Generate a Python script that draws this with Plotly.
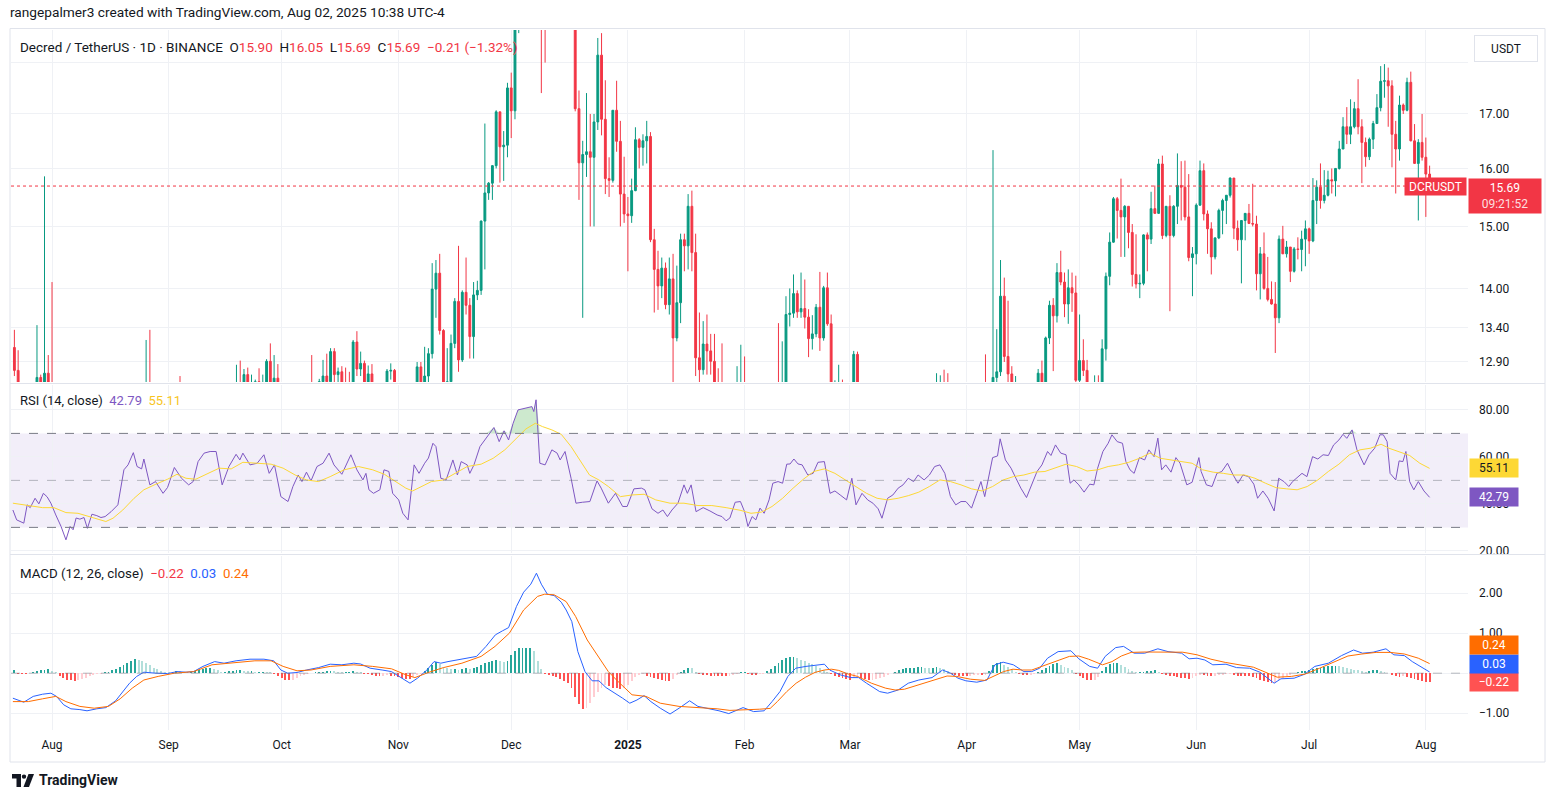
import math
import pandas as pd
import plotly.graph_objects as go

# ---------------- DATA ----------------
ORIGIN = pd.Timestamp("2024-08-01")   # day 0
FIRST_DAY = -10                        # first candle = 2024-07-22
FIRST_OPEN = 13.11

closes = [
    12.78, 12.35, 12.20, 12.45, 12.40, 12.42, 12.68, 12.58, 12.74, 12.60,
    12.15, 11.85, 11.55, 11.00, 11.30, 11.20, 11.45, 11.40, 11.45, 11.10,
    11.40, 11.35, 11.30, 11.30, 11.35, 11.45, 11.55, 11.60, 11.75, 12.25,
    12.35, 12.50, 12.30, 12.25, 12.35, 12.55, 12.05, 12.10, 12.00, 11.90,
    12.00, 12.15, 12.35, 12.30, 12.10, 12.05, 12.00, 12.05, 12.35, 12.45,
    12.50, 12.55, 12.55, 12.58, 12.30, 12.10, 12.25, 12.35, 12.50, 12.58,
    12.45, 12.72, 12.50, 12.58, 12.62, 12.50, 12.58, 12.91, 12.55, 12.67,
    12.58, 12.20, 12.10, 12.25, 12.35, 12.45, 12.40, 12.50, 12.45, 12.40,
    12.60, 12.62, 12.70, 12.62, 13.05, 12.72, 12.76, 12.60, 12.50, 12.48,
    13.19, 12.80, 12.88, 12.50, 12.73, 12.55, 12.45, 12.50, 12.55, 12.77,
    12.78, 12.40, 12.30, 12.00, 11.85, 11.80, 12.55, 12.83, 12.50, 12.70,
    13.02, 13.99, 14.24, 13.36, 12.55, 12.62, 13.17, 13.80, 12.93, 13.94,
    13.74, 13.27, 13.90, 13.97, 15.09, 15.57, 15.74, 16.05, 17.04, 16.39,
    16.42, 17.50, 17.06, 19.00, 20.20, 21.00, 21.50, 22.50, 22.00, 24.00,
    19.80, 19.50, 20.50, 20.30, 20.00, 19.80, 20.40, 19.60, 19.00, 17.10,
    16.10, 16.25, 16.30, 16.20, 16.85, 18.15, 16.90, 15.82, 15.79, 17.07,
    16.49, 15.55, 15.21, 15.18, 15.61, 16.52, 16.38, 16.50, 16.58, 14.78,
    14.30, 14.04, 14.32, 13.75, 14.15, 13.25, 13.78, 14.78, 14.68, 15.34,
    14.57, 12.96, 12.79, 13.16, 13.06, 12.91, 12.50, 12.30, 12.20, 12.00,
    11.70, 11.50, 11.90, 12.20, 11.80, 11.00, 11.20, 11.10, 11.50, 11.40,
    11.70, 12.20, 12.30, 12.25, 12.55, 13.60, 13.62, 13.92, 13.64, 13.69,
    13.56, 13.24, 13.31, 13.71, 13.25, 14.01, 13.46, 12.50, 12.55, 12.58,
    12.40, 12.30, 12.35, 13.01, 12.45, 12.10, 11.95, 11.90, 11.80, 11.65,
    11.40, 11.75, 11.85, 11.95, 12.00, 12.10, 12.05, 12.15, 12.10, 12.20,
    12.15, 12.25, 12.30, 12.35, 12.40, 12.50, 12.55, 12.30, 12.10, 11.95,
    11.90, 11.95, 11.90, 11.75, 11.70, 11.95, 12.10, 11.85, 11.80, 12.30,
    12.68, 12.76, 13.88, 12.98, 12.73, 12.50, 12.58, 12.35, 12.20, 12.10,
    12.35, 12.55, 12.74, 12.60, 13.25, 13.74, 13.58, 14.25, 14.10, 13.76,
    14.01, 13.93, 12.64, 12.92, 12.78, 12.55, 12.45, 12.58, 12.52, 13.09,
    14.19, 14.74, 15.47, 15.27, 15.16, 15.34, 14.90, 14.22, 14.07, 14.08,
    14.86, 14.79, 15.30, 15.22, 16.08, 14.85, 15.34, 14.85, 15.34, 15.70,
    15.67, 15.16, 14.49, 14.55, 15.36, 15.96, 15.21, 14.96, 14.50, 14.81,
    15.27, 15.44, 15.53, 15.83, 14.97, 14.78, 15.10, 15.22, 15.05, 15.04,
    14.23, 14.55, 14.00, 13.83, 13.76, 13.55, 14.79, 14.55, 14.66, 14.27,
    14.63, 14.62, 14.79, 14.96, 14.76, 15.44, 15.67, 15.44, 15.53, 15.80,
    15.78, 16.00, 16.35, 16.76, 16.62, 16.76, 17.10, 16.76, 16.47, 16.21,
    16.53, 16.82, 17.12, 17.63, 17.64, 17.54, 16.62, 16.35, 17.17, 17.07,
    17.61, 16.50, 16.09, 16.47, 16.20, 15.90, 15.69,
]

highs = [
    13.37, 13.07, 12.45, 12.52, 12.55, 12.55, 13.44, 12.72, 15.86, 13.00,
    14.10, 12.25, 11.95, 11.65, 11.45, 11.60, 11.70, 11.65, 11.70, 11.50,
    11.55, 11.60, 11.50, 11.45, 11.50, 11.55, 11.65, 11.75, 11.90, 12.35,
    12.50, 12.58, 12.55, 12.45, 12.50, 13.22, 13.37, 12.25, 12.20, 12.10,
    12.15, 12.30, 12.45, 12.50, 12.70, 12.25, 12.15, 12.20, 12.45, 12.55,
    12.58, 12.60, 12.60, 12.61, 12.60, 12.35, 12.35, 12.45, 12.58, 12.86,
    12.92, 12.80, 12.82, 12.72, 12.65, 12.81, 12.72, 12.94, 13.17, 13.00,
    12.87, 12.60, 12.30, 12.35, 12.45, 12.55, 12.55, 12.58, 12.58, 13.00,
    12.61, 12.66, 12.93, 13.02, 13.10, 13.10, 12.82, 12.84, 12.82, 12.76,
    13.22, 13.35, 13.05, 12.92, 12.85, 12.87, 12.58, 12.58, 12.60, 12.80,
    12.88, 12.80, 12.48, 12.35, 12.10, 11.95, 12.60, 12.90, 12.90, 13.12,
    13.10, 14.40, 14.45, 14.55, 13.38, 13.10, 13.30, 13.85, 14.68, 13.97,
    14.49, 13.85, 14.10, 14.12, 15.10, 16.82, 15.76, 16.06, 17.07, 17.04,
    16.68, 17.60, 17.80, 19.30, 20.80, 21.60, 22.20, 23.00, 23.20, 24.60,
    24.20, 20.60, 20.90, 21.00, 20.60, 20.30, 20.80, 20.50, 19.80, 19.30,
    17.45, 16.50, 17.40, 17.00, 17.00, 18.50, 18.60, 17.65, 16.20, 17.07,
    17.64, 16.87, 16.21, 15.50, 15.82, 16.75, 16.55, 16.62, 16.87, 16.66,
    14.96, 14.60, 14.49, 14.41, 14.49, 14.55, 14.36, 14.88, 14.88, 15.55,
    15.61, 14.88, 13.63, 13.50, 13.60, 13.31, 13.31, 12.81, 13.17, 12.45,
    12.20, 11.90, 12.84, 13.15, 12.98, 11.90, 11.40, 11.35, 11.60, 11.65,
    11.85, 12.30, 12.45, 13.47, 13.20, 13.88, 14.00, 14.22, 13.97, 14.25,
    14.14, 13.68, 13.59, 13.76, 14.26, 14.04, 14.25, 13.60, 12.64, 12.86,
    12.65, 12.50, 12.45, 13.06, 13.05, 12.50, 12.20, 12.05, 11.95, 11.85,
    11.70, 11.85, 11.95, 12.05, 12.10, 12.20, 12.20, 12.25, 12.25, 12.30,
    12.30, 12.35, 12.40, 12.45, 12.50, 12.74, 12.71, 12.79, 12.74, 12.15,
    12.05, 12.05, 12.00, 11.95, 11.85, 12.05, 12.20, 12.15, 13.01, 12.45,
    16.33, 13.38, 14.45, 14.17, 13.81, 12.84, 12.70, 12.60, 12.45, 12.30,
    12.45, 12.60, 12.80, 12.92, 13.27, 13.81, 13.85, 14.40, 14.60, 14.25,
    14.30, 14.25, 14.20, 13.60, 13.23, 12.93, 12.60, 12.71, 12.71, 13.23,
    14.25, 14.90, 15.50, 15.50, 15.82, 15.36, 15.34, 15.04, 14.87, 14.22,
    14.87, 14.90, 15.59, 15.70, 16.17, 16.23, 15.34, 15.53, 15.36, 16.27,
    16.13, 16.14, 15.90, 14.66, 15.39, 16.14, 16.09, 15.27, 15.07, 14.82,
    15.30, 15.47, 15.53, 15.84, 15.79, 15.10, 15.10, 15.22, 15.38, 15.73,
    15.18, 14.66, 14.90, 14.50, 14.11, 14.10, 14.85, 15.01, 14.76, 14.66,
    14.66, 14.82, 14.93, 15.10, 14.98, 15.83, 15.79, 16.09, 15.97, 15.96,
    16.00, 16.00, 16.50, 16.94, 17.13, 17.28, 17.23, 17.67, 16.90, 16.56,
    16.56, 16.87, 17.38, 17.93, 17.97, 17.90, 17.65, 16.87, 17.35, 17.20,
    17.70, 17.82, 16.81, 16.53, 17.00, 16.56, 16.05,
]

lows = [
    12.70, 12.25, 12.10, 12.12, 12.30, 12.30, 12.35, 12.45, 12.50, 12.30,
    12.00, 11.70, 11.40, 10.90, 10.05, 11.00, 11.10, 11.20, 11.25, 11.00,
    11.05, 11.20, 11.15, 11.15, 11.20, 11.25, 11.35, 11.45, 11.50, 11.70,
    12.10, 12.25, 12.20, 12.10, 12.15, 12.30, 11.95, 11.95, 11.90, 11.80,
    11.85, 11.95, 12.10, 12.20, 12.00, 11.95, 11.90, 11.95, 12.00, 12.25,
    12.35, 12.40, 12.42, 12.45, 12.20, 12.00, 12.05, 12.15, 12.30, 12.40,
    12.35, 12.40, 12.40, 12.45, 12.50, 12.40, 12.45, 12.50, 12.45, 12.50,
    12.45, 12.10, 12.00, 12.05, 12.15, 12.25, 12.30, 12.35, 12.35, 12.30,
    12.35, 12.45, 12.50, 12.50, 12.55, 12.60, 12.60, 12.50, 12.40, 12.35,
    12.40, 12.70, 12.70, 12.40, 12.45, 12.45, 12.30, 12.35, 12.40, 12.45,
    12.65, 12.30, 12.15, 11.90, 11.75, 11.60, 11.75, 12.45, 12.35, 12.40,
    12.60, 12.95, 13.55, 13.30, 12.45, 12.45, 12.55, 13.10, 12.76, 12.90,
    13.60, 12.95, 12.95, 13.82, 13.90, 14.30, 15.45, 15.45, 16.00, 15.75,
    15.78, 16.20, 16.55, 16.90, 18.60, 19.80, 20.50, 21.20, 21.40, 21.80,
    17.40, 18.00, 19.20, 19.80, 19.50, 19.30, 19.60, 19.20, 18.80, 17.05,
    15.45, 13.55, 15.85, 15.00, 15.00, 16.70, 16.60, 15.55, 15.50, 15.75,
    16.30, 15.00, 15.06, 14.27, 15.06, 15.60, 16.00, 16.05, 16.09, 14.74,
    13.63, 13.67, 13.85, 13.68, 13.60, 12.50, 13.20, 13.47, 14.27, 14.30,
    14.27, 12.70, 12.50, 12.72, 12.72, 12.72, 12.30, 12.20, 12.05, 11.90,
    11.60, 11.40, 11.40, 11.80, 11.60, 10.80, 10.20, 10.90, 11.00, 11.25,
    11.35, 11.65, 12.05, 12.10, 12.20, 12.50, 13.42, 13.55, 13.55, 13.55,
    13.39, 12.97, 13.08, 13.26, 13.06, 13.21, 13.43, 12.40, 12.35, 12.40,
    12.30, 12.15, 12.20, 12.30, 12.20, 12.00, 11.85, 11.75, 11.65, 11.50,
    11.25, 11.35, 11.65, 11.75, 11.85, 11.90, 11.95, 11.95, 12.00, 12.05,
    12.05, 12.10, 12.15, 12.20, 12.25, 12.30, 12.40, 12.20, 12.00, 11.85,
    11.80, 11.80, 11.80, 11.65, 11.55, 11.65, 11.90, 11.70, 11.60, 11.70,
    12.00, 12.60, 12.70, 12.90, 12.60, 12.35, 12.40, 12.25, 12.05, 11.95,
    12.05, 12.30, 12.45, 12.50, 12.55, 13.16, 12.77, 13.48, 14.05, 13.56,
    13.46, 13.64, 12.55, 12.55, 12.70, 12.45, 12.30, 12.35, 12.40, 12.45,
    12.92, 14.05, 14.73, 14.80, 14.50, 14.50, 14.64, 14.03, 14.00, 13.85,
    14.05, 14.27, 14.71, 15.21, 15.21, 14.79, 14.82, 13.65, 14.82, 15.04,
    15.10, 15.10, 14.43, 13.88, 14.38, 15.35, 15.10, 14.55, 14.22, 14.46,
    14.79, 14.87, 15.04, 15.49, 14.79, 14.60, 14.08, 14.77, 15.04, 15.00,
    13.97, 13.83, 13.98, 13.80, 13.75, 13.03, 13.47, 14.55, 14.49, 14.10,
    14.25, 14.46, 14.27, 14.35, 14.55, 14.74, 15.04, 15.30, 15.39, 15.51,
    15.56, 15.51, 15.98, 16.35, 16.44, 16.44, 16.73, 16.62, 15.74, 16.03,
    16.15, 16.35, 16.82, 17.05, 17.31, 16.76, 16.02, 15.56, 16.14, 17.00,
    17.05, 16.49, 16.08, 15.10, 16.14, 15.16, 15.69,
]

macd_hist = [
    0.09, -0.02, -0.03, -0.03, 0.00, 0.03, 0.05, 0.07, 0.08, 0.10,
    0.06, 0.02, -0.06, -0.12, -0.16, -0.18, -0.19, -0.17, -0.14, -0.11,
    -0.07, -0.04, -0.02, -0.01, 0.02, 0.04, 0.07, 0.10, 0.15, 0.20,
    0.25, 0.30, 0.35, 0.33, 0.30, 0.25, 0.20, 0.14, 0.10, 0.05,
    0.03, 0.02, 0.04, 0.06, 0.05, 0.03, 0.02, 0.03, 0.06, 0.09,
    0.11, 0.12, 0.12, 0.10, 0.07, 0.04, 0.04, 0.05, 0.06, 0.07,
    0.07, 0.06, 0.05, 0.05, 0.04, 0.04, 0.04, 0.03, 0.02, -0.02,
    -0.06, -0.12, -0.16, -0.18, -0.16, -0.12, -0.08, -0.05, -0.02, 0.00,
    0.02, 0.03, 0.04, 0.05, 0.06, 0.05, 0.04, 0.03, 0.03, 0.04,
    0.05, 0.04, 0.02, -0.01, -0.03, -0.05, -0.06, -0.07, -0.06, -0.05,
    -0.06, -0.08, -0.10, -0.12, -0.14, -0.15, -0.10, -0.05, -0.01, 0.05,
    0.12, 0.20, 0.27, 0.22, 0.15, 0.12, 0.10, 0.11, 0.09, 0.10,
    0.12, 0.11, 0.13, 0.15, 0.20, 0.25, 0.27, 0.30, 0.32, 0.30,
    0.28, 0.30, 0.45, 0.55, 0.62, 0.62, 0.63, 0.64, 0.55, 0.30,
    0.10, -0.02, -0.04, -0.06, -0.10, -0.15, -0.20, -0.25, -0.38, -0.60,
    -0.78, -0.90, -0.86, -0.75, -0.60, -0.48, -0.38, -0.30, -0.32, -0.36,
    -0.38, -0.40, -0.36, -0.30, -0.20, -0.10, -0.05, -0.02, -0.06, -0.10,
    -0.13, -0.15, -0.17, -0.19, -0.20, -0.15, -0.05, 0.03, 0.08, 0.13,
    0.12, 0.02, -0.03, -0.04, -0.05, -0.06, -0.06, -0.07, -0.08, -0.08,
    -0.07, -0.05, -0.02, 0.02, 0.03, -0.02, -0.04, -0.05, -0.03, -0.02,
    0.05, 0.10, 0.17, 0.25, 0.32, 0.37, 0.40, 0.41, 0.38, 0.34,
    0.30, 0.26, 0.22, 0.18, 0.14, 0.09, 0.03, -0.03, -0.07, -0.10,
    -0.12, -0.14, -0.16, -0.12, -0.10, -0.12, -0.15, -0.17, -0.16, -0.14,
    -0.12, -0.10, -0.05, 0.00, 0.04, 0.07, 0.10, 0.12, 0.13, 0.14,
    0.15, 0.15, 0.14, 0.13, 0.14, 0.15, 0.14, 0.10, 0.05, -0.03,
    -0.05, -0.06, -0.07, -0.07, -0.06, -0.05, -0.04, -0.05, -0.04, 0.05,
    0.20, 0.25, 0.27, 0.20, 0.15, 0.10, 0.04, -0.02, -0.04, -0.05,
    -0.04, -0.02, 0.02, 0.08, 0.12, 0.18, 0.22, 0.25, 0.20, 0.15,
    0.12, 0.07, -0.03, -0.08, -0.13, -0.16, -0.18, -0.16, -0.10, 0.05,
    0.15, 0.22, 0.25, 0.26, 0.20, 0.16, 0.10, 0.05, 0.02, 0.02,
    0.03, 0.05, 0.06, 0.08, 0.04, -0.02, -0.05, -0.06, -0.08, -0.10,
    -0.12, -0.13, -0.15, -0.12, -0.08, -0.05, -0.05, -0.06, -0.07, -0.06,
    -0.05, -0.04, -0.03, -0.02, -0.04, -0.06, -0.07, -0.07, -0.08, -0.10,
    -0.13, -0.16, -0.19, -0.22, -0.25, -0.24, -0.17, -0.12, -0.07, -0.04,
    0.01, 0.03, 0.05, 0.06, 0.08, 0.10, 0.12, 0.14, 0.16, 0.17,
    0.18, 0.19, 0.17, 0.15, 0.12, 0.10, 0.09, 0.07, 0.05, 0.04,
    0.06, 0.08, 0.09, 0.06, 0.03, 0.00, -0.04, -0.07, -0.09, -0.08,
    -0.10, -0.12, -0.15, -0.17, -0.19, -0.21, -0.22,
]

# (day offset from 2024-08-01, value)
rsi_points = [
    (-10.4, 37.4), (-9.4, 33.2), (-7.5, 31.8), (-6.6, 39.6), (-5.8, 38.4), (-4.5, 42.4), (-3.5, 40.0),
    (-2.3, 44.5), (-1.3, 43.0), (-0.3, 40.3), (1.0, 35.3), (2.4, 30.4), (3.7, 24.7), (4.8, 30.4),
    (5.6, 29.0), (6.4, 34.0), (7.4, 33.5), (8.5, 34.2), (9.4, 29.6), (10.6, 35.6), (11.9, 35.0),
    (13.0, 34.2), (14.1, 34.6), (15.7, 36.7), (17.5, 39.6), (19.1, 54.5), (20.2, 56.6), (21.6, 61.8),
    (22.6, 55.9), (23.8, 54.9), (24.4, 59.1), (26.0, 48.1), (27.5, 49.5), (29.5, 44.5), (30.7, 47.0),
    (32.5, 55.5), (34.4, 50.9), (36.3, 48.1), (37.5, 49.5), (38.8, 58.0), (40.4, 61.6), (42.0, 62.3),
    (43.6, 62.3), (45.2, 48.1), (47.0, 55.9), (48.9, 61.1), (49.9, 58.7), (50.7, 61.6), (52.6, 56.6),
    (54.5, 57.3), (56.3, 60.9), (57.7, 53.0), (59.1, 56.6), (60.8, 43.1), (62.7, 41.0), (64.0, 47.4),
    (65.4, 52.3), (66.4, 49.5), (67.6, 53.5), (68.8, 49.8), (70.4, 55.9), (72.0, 57.3), (73.6, 61.6),
    (74.9, 56.6), (77.0, 52.6), (79.4, 60.9), (81.0, 54.5), (82.6, 50.2), (83.4, 53.0), (84.2, 46.0),
    (85.4, 44.5), (87.1, 46.0), (88.2, 54.5), (89.5, 53.8), (90.5, 44.5), (92.1, 41.7), (93.2, 36.0),
    (94.6, 33.2), (96.2, 56.6), (97.5, 53.0), (99.0, 57.3), (100.0, 59.5), (101.2, 65.8), (102.0, 64.4),
    (103.3, 50.9), (104.7, 50.2), (106.5, 58.7), (107.7, 52.3), (108.7, 58.0), (110.3, 56.6), (111.0, 53.0),
    (112.1, 56.6), (113.7, 64.4), (115.3, 67.9), (117.4, 72.5), (118.8, 66.5), (120.1, 71.1), (121.3, 67.2),
    (122.5, 74.3), (123.8, 80.0), (125.9, 80.7), (127.5, 81.4), (128.0, 79.3), (128.6, 84.3), (129.6, 57.3),
    (131.0, 56.6), (132.8, 63.0), (134.2, 61.6), (135.0, 58.7), (136.3, 62.3), (137.9, 50.9), (139.2, 40.3),
    (140.9, 40.7), (142.9, 41.0), (144.8, 49.8), (145.9, 46.7), (147.8, 40.3), (149.7, 44.5), (151.6, 38.9),
    (152.8, 38.9), (154.6, 46.4), (156.6, 46.7), (157.5, 46.0), (159.4, 37.9), (161.0, 36.0), (162.3, 37.4),
    (163.5, 34.6), (164.7, 37.4), (166.3, 40.3), (167.9, 48.1), (168.8, 44.5), (169.8, 48.1), (171.1, 36.7),
    (173.0, 38.4), (174.8, 37.0), (176.7, 35.3), (178.0, 34.6), (179.1, 32.8), (180.1, 34.0), (181.5, 40.7),
    (182.9, 41.0), (184.0, 36.7), (184.9, 30.4), (186.0, 34.6), (187.0, 33.2), (188.1, 38.2), (189.2, 36.0),
    (190.5, 41.7), (191.5, 48.8), (192.9, 49.5), (194.1, 48.8), (195.2, 56.9), (196.1, 57.0), (197.1, 59.1),
    (198.2, 57.0), (199.3, 56.6), (200.8, 52.3), (202.2, 53.0), (203.5, 57.7), (205.2, 58.0), (206.7, 44.5),
    (208.0, 45.5), (209.4, 43.8), (211.1, 41.7), (212.5, 50.9), (213.6, 39.6), (215.2, 44.5), (216.7, 41.7),
    (218.1, 40.3), (219.5, 37.9), (220.5, 33.9), (222.0, 42.4), (223.4, 43.8), (224.8, 46.7), (226.1, 48.1),
    (227.5, 50.9), (228.9, 49.5), (230.1, 52.3), (231.7, 50.2), (233.1, 52.3), (234.5, 55.9), (235.9, 56.6),
    (237.2, 53.0), (238.7, 43.1), (240.1, 39.6), (241.5, 41.0), (242.8, 41.0), (244.3, 38.2), (245.7, 44.5),
    (246.8, 49.5), (247.8, 43.1), (249.9, 59.7), (251.2, 60.4), (251.9, 67.7), (253.3, 58.7), (254.8, 55.2),
    (256.1, 50.9), (257.4, 46.7), (258.9, 42.7), (260.4, 48.8), (261.7, 53.8), (263.0, 56.6), (264.5, 62.3),
    (265.4, 60.6), (266.6, 65.1), (268.0, 61.6), (269.4, 60.9), (270.5, 48.8), (271.5, 50.2), (272.8, 48.1),
    (274.2, 45.0), (275.7, 48.4), (276.8, 48.1), (277.8, 55.2), (279.2, 62.3), (280.6, 65.8), (281.6, 69.4),
    (283.0, 66.5), (284.4, 65.8), (285.3, 58.0), (286.4, 54.5), (287.5, 53.0), (288.9, 59.7), (290.3, 58.7),
    (291.4, 63.0), (292.8, 60.1), (293.8, 68.0), (294.8, 54.5), (295.9, 56.6), (297.3, 53.5), (298.6, 59.7),
    (299.7, 57.3), (301.5, 48.1), (302.9, 49.2), (304.7, 59.7), (305.3, 53.8), (306.7, 48.1), (308.2, 47.4),
    (309.5, 53.0), (310.8, 53.8), (312.3, 57.3), (313.8, 52.3), (315.1, 48.8), (316.4, 52.3), (317.9, 51.6),
    (319.3, 48.4), (320.3, 42.4), (321.7, 45.5), (323.1, 42.4), (324.7, 37.0), (325.9, 50.9), (327.3, 49.5),
    (328.6, 47.4), (329.6, 49.5), (332.1, 53.0), (333.4, 51.6), (334.9, 60.1), (336.3, 59.1), (337.7, 60.9),
    (339.1, 60.6), (340.5, 65.1), (341.9, 67.2), (343.0, 69.6), (344.0, 67.9), (345.4, 71.5), (346.7, 63.0),
    (348.6, 56.6), (349.9, 60.9), (351.4, 63.7), (352.8, 69.4), (353.7, 69.4), (354.7, 66.5), (355.5, 53.0),
    (357.0, 50.2), (357.9, 58.3), (358.9, 58.0), (359.7, 62.3), (360.7, 49.5), (361.8, 46.0), (363.0, 49.5),
    (364.5, 45.5), (366.0, 42.79),
]

rsi_ma_points = [
    (-10.4, 40.3), (-6.4, 39.3), (-2.5, 38.4), (0.5, 38.4), (3.7, 36.3), (6.9, 36.0), (10.0, 34.6),
    (12.5, 33.2), (14.3, 32.5), (16.2, 33.9), (18.8, 37.4), (21.8, 42.4), (24.4, 46.0), (27.6, 48.4),
    (30.7, 50.5), (33.2, 52.6), (35.6, 50.9), (38.2, 50.5), (41.3, 53.0), (44.4, 55.2), (47.6, 54.9),
    (50.7, 57.7), (54.5, 57.3), (58.2, 56.9), (61.4, 55.2), (64.6, 52.3), (67.6, 50.2), (70.8, 49.5),
    (73.9, 51.6), (77.6, 54.5), (81.4, 55.9), (85.2, 54.5), (88.3, 52.6), (91.4, 49.5), (94.0, 46.7),
    (95.8, 45.5), (98.3, 47.4), (100.8, 49.5), (104.0, 50.2), (107.1, 53.0), (110.3, 55.9), (114.0, 56.9),
    (117.2, 59.4), (120.3, 63.0), (123.4, 67.9), (125.9, 71.9), (128.4, 74.3), (130.3, 72.9), (132.8, 71.5),
    (135.3, 69.6), (137.9, 64.4), (140.3, 58.7), (142.8, 52.3), (145.3, 50.2), (147.8, 47.4), (151.0, 43.1),
    (154.1, 43.8), (157.3, 44.1), (160.4, 41.7), (164.2, 40.3), (167.9, 40.3), (171.6, 39.3), (175.3, 39.3),
    (179.1, 38.4), (182.8, 37.3), (185.7, 36.0), (188.5, 36.5), (191.3, 38.9), (194.1, 42.4), (196.9, 46.7),
    (199.7, 50.6), (202.4, 53.8), (205.2, 54.9), (208.0, 53.0), (210.8, 50.2), (213.6, 47.4), (216.4, 44.5),
    (219.2, 42.4), (222.0, 41.7), (224.8, 42.4), (227.5, 43.5), (230.3, 45.0), (233.1, 47.4), (235.9, 50.2),
    (238.7, 49.5), (241.5, 48.1), (244.3, 46.4), (247.1, 45.5), (249.9, 47.4), (252.7, 50.2), (255.4, 51.6),
    (258.2, 52.3), (261.0, 53.5), (263.8, 53.8), (266.6, 55.2), (269.4, 56.9), (272.2, 55.9), (275.0, 54.0),
    (277.8, 54.5), (280.6, 55.9), (283.3, 56.6), (286.1, 57.7), (288.9, 59.4), (291.7, 61.6), (294.5, 59.4),
    (297.3, 58.7), (300.1, 58.0), (302.9, 57.3), (305.7, 54.5), (308.5, 53.5), (311.2, 53.0), (314.0, 52.3),
    (316.8, 52.3), (319.6, 50.9), (322.4, 48.8), (325.2, 46.9), (328.0, 46.4), (330.8, 46.0), (333.5, 47.4),
    (336.3, 50.2), (339.1, 53.8), (341.9, 56.9), (344.7, 60.9), (347.5, 63.0), (350.3, 63.7), (353.1, 65.4),
    (355.2, 63.7), (357.9, 62.3), (360.7, 60.6), (363.4, 57.3), (366.0, 55.11),
]

macd_points = [
    (-10.4, -0.625), (-8.8, -0.69), (-7.5, -0.725), (-5.0, -0.58), (-2.5, -0.525), (-0.3, -0.50), (1.2, -0.58),
    (3.1, -0.79), (5.0, -0.89), (7.4, -0.91), (9.3, -0.94), (11.9, -0.89), (14.3, -0.86), (16.9, -0.69),
    (18.8, -0.46), (20.6, -0.25), (22.5, -0.08), (24.4, 0.025), (27.6, 0.0), (30.7, -0.01), (33.2, 0.04),
    (35.6, 0.025), (37.6, 0.04), (40.1, 0.17), (43.2, 0.29), (45.7, 0.25), (48.9, 0.31), (52.6, 0.35),
    (56.3, 0.35), (58.9, 0.31), (60.8, 0.08), (62.6, 0.0), (65.1, 0.017), (67.6, 0.08), (70.8, 0.14),
    (73.9, 0.225), (77.0, 0.21), (80.2, 0.25), (82.0, 0.23), (84.5, 0.125), (87.7, 0.08), (90.2, 0.04),
    (92.7, -0.11), (95.1, -0.25), (97.1, -0.125), (99.6, 0.08), (101.5, 0.29), (103.3, 0.25), (105.2, 0.29),
    (107.7, 0.33), (110.3, 0.375), (112.8, 0.42), (115.3, 0.67), (117.8, 0.96), (119.7, 1.06), (121.3, 1.14),
    (123.4, 1.67), (125.3, 2.025), (127.2, 2.225), (128.7, 2.50), (130.0, 2.225), (131.6, 1.975), (133.4, 1.94),
    (135.3, 1.775), (136.6, 1.58), (138.1, 1.29), (139.7, 0.54), (141.6, 0.04), (143.5, -0.19), (145.3, -0.19),
    (147.2, -0.36), (149.0, -0.46), (151.6, -0.625), (153.5, -0.75), (155.4, -0.67), (157.3, -0.56),
    (159.1, -0.71), (161.6, -0.875), (164.2, -1.02), (166.6, -0.875), (169.4, -0.69), (171.6, -0.83),
    (174.1, -0.875), (177.2, -0.94), (179.8, -1.01), (183.6, -0.86), (186.4, -0.96), (189.2, -0.94),
    (191.3, -0.71), (193.4, -0.46), (195.5, -0.08), (197.6, 0.125), (200.3, 0.17), (203.1, 0.21),
    (205.2, 0.225), (206.6, 0.08), (209.4, -0.04), (212.2, -0.11), (214.3, -0.11), (216.4, -0.25),
    (219.9, -0.46), (222.0, -0.50), (224.8, -0.42), (227.5, -0.25), (230.3, -0.17), (233.8, -0.11),
    (236.6, 0.08), (238.7, 0.0), (240.7, -0.125), (242.8, -0.19), (245.7, -0.225), (248.4, -0.17),
    (250.5, 0.21), (252.7, 0.275), (255.4, 0.21), (258.2, 0.04), (260.3, 0.04), (262.4, 0.125), (264.5, 0.375),
    (267.3, 0.54), (270.7, 0.56), (272.8, 0.36), (275.7, 0.17), (277.8, 0.125), (279.8, 0.42), (282.6, 0.64),
    (284.7, 0.67), (287.5, 0.50), (290.3, 0.50), (293.8, 0.61), (296.5, 0.54), (300.1, 0.50), (302.1, 0.36),
    (304.2, 0.375), (306.3, 0.33), (308.4, 0.21), (311.9, 0.225), (314.7, 0.14), (318.2, 0.125), (320.9, 0.025),
    (323.1, -0.125), (324.7, -0.25), (326.5, -0.14), (330.0, -0.125), (332.8, -0.025), (335.5, 0.17),
    (339.1, 0.25), (342.6, 0.44), (345.8, 0.58), (348.2, 0.50), (351.0, 0.525), (354.4, 0.61), (356.5, 0.46),
    (359.3, 0.44), (361.4, 0.29), (363.4, 0.17), (366.0, 0.03),
]

signal_points = [
    (-10.4, -0.71), (-6.3, -0.71), (-2.5, -0.64), (1.0, -0.58), (3.7, -0.71), (7.4, -0.83), (11.2, -0.875),
    (15.0, -0.83), (18.1, -0.64), (21.3, -0.375), (24.4, -0.17), (28.2, -0.08), (32.5, 0.0), (37.6, 0.04),
    (42.5, 0.21), (47.6, 0.25), (53.9, 0.31), (58.2, 0.31), (61.4, 0.17), (65.1, 0.06), (68.8, 0.08),
    (73.9, 0.17), (80.2, 0.21), (85.2, 0.17), (90.2, 0.11), (94.0, -0.04), (96.4, -0.11), (100.2, 0.025),
    (104.0, 0.14), (108.9, 0.25), (114.0, 0.42), (117.7, 0.67), (121.5, 1.0), (125.3, 1.58), (129.0, 1.92),
    (130.9, 1.975), (133.4, 1.96), (136.6, 1.79), (139.1, 1.42), (142.2, 0.83), (145.3, 0.375), (147.8, 0.04),
    (150.4, -0.21), (154.1, -0.54), (157.8, -0.58), (161.6, -0.75), (166.6, -0.83), (171.6, -0.86),
    (176.7, -0.89), (180.1, -0.93), (185.1, -0.92), (188.0, -0.90), (190.8, -0.88), (192.7, -0.71),
    (195.2, -0.46), (197.7, -0.25), (200.2, -0.10), (202.7, 0.02), (205.2, 0.08), (207.1, 0.10), (209.0, 0.07),
    (211.5, -0.02), (214.0, -0.08), (217.7, -0.25), (221.5, -0.375), (224.0, -0.42), (226.5, -0.40),
    (230.3, -0.29), (234.0, -0.17), (237.8, -0.07), (240.3, -0.08), (244.0, -0.15), (247.8, -0.18),
    (250.3, -0.08), (252.8, 0.04), (255.3, 0.10), (257.8, 0.08), (260.3, 0.08), (262.8, 0.17), (266.6, 0.29),
    (270.3, 0.42), (272.8, 0.43), (275.4, 0.35), (279.1, 0.21), (281.6, 0.29), (284.1, 0.43), (286.7, 0.52),
    (290.4, 0.53), (295.4, 0.525), (300.4, 0.525), (304.2, 0.46), (307.9, 0.35), (311.7, 0.27), (315.5, 0.21),
    (319.2, 0.15), (323.0, 0.0), (325.5, -0.10), (329.3, -0.08), (333.0, -0.02), (336.8, 0.125), (340.5, 0.27),
    (344.3, 0.43), (348.0, 0.48), (351.8, 0.52), (355.5, 0.52), (359.3, 0.48), (363.0, 0.375), (366.0, 0.24),
]

month_labels = ["Aug", "Sep", "Oct", "Nov", "Dec", "2025", "Feb", "Mar", "Apr", "May", "Jun", "Jul", "Aug"]
price_ticks = [12.9, 13.4, 14.0, 15.0, 16.0, 17.0, 18.0]
price_tick_text = ["12.90", "13.40", "14.00", "15.00", "16.00", "17.00", ""]
rsi_ticks = [20, 40, 60, 80]
macd_ticks = [-1, 0, 1, 2]
macd_tick_text = ["\u22121.00", "", "1.00", "2.00"]

# ---------------- STYLE / LAYOUT CONSTANTS ----------------
W, H = 1554, 800
PX_L, PX_R, PX_T, PX_B = 11, 1468, 30, 730
PRICE_PX = (30, 382)
RSI_PX = (385, 553)
MACD_PX = (556, 730)
X_D0, X_D1 = -10.9, 376.2
PRICE_RANGE = (12.616, 18.665)
RSI_RANGE = (19.1, 90.6)
MACD_RANGE = (-1.42, 2.93)

FONT = "Roboto, 'Open Sans', Arial, sans-serif"
TXT = "#131722"
GRID = "#EFF1F5"
UP, DN = "#089981", "#F23645"
RSI_C, RSI_MA_C = "#7E57C2", "#FDD835"
MACD_C, SIG_C = "#2962FF", "#FF6D00"
FRAME = "#E0E3EB"


def px2x(px):
    return (px - PX_L) / (PX_R - PX_L)


def py2y(py):
    return (PX_B - py) / (PX_B - PX_T)


def dom(pxr):
    return [py2y(pxr[1]), py2y(pxr[0])]


def lin_py(v, rng, pxr):
    return pxr[0] + (rng[1] - v) / (rng[1] - rng[0]) * (pxr[1] - pxr[0])


def log_py(v, rng, pxr):
    lo, hi = math.log10(rng[0]), math.log10(rng[1])
    return pxr[0] + (hi - math.log10(v)) / (hi - lo) * (pxr[1] - pxr[0])


def dt(d):
    return ORIGIN + pd.Timedelta(days=float(d))


def fmt(v):
    s = f"{abs(v):.2f}"
    return ("\u2212" + s) if v < 0 else s


# ---------------- DERIVED SERIES ----------------
n = min(len(closes), len(highs), len(lows), len(macd_hist))
cl = closes[:n]
dates = [dt(FIRST_DAY + i) for i in range(n)]
opens = [FIRST_OPEN] + cl[:-1]
hi = [max(highs[i], opens[i], cl[i]) for i in range(n)]
lo = [min(lows[i], opens[i], cl[i]) for i in range(n)]
hist = macd_hist[:n]

hist_colors = []
for i, h in enumerate(hist):
    prev = hist[i - 1] if i > 0 else h
    if h >= 0:
        hist_colors.append("#26A69A" if h >= prev else "#B2DFDB")
    else:
        hist_colors.append("#FF5252" if h <= prev else "#FFCDD2")

rsi_d, rsi_v = zip(*rsi_points)
rma_d, rma_v = zip(*rsi_ma_points)
mac_d, mac_v = zip(*macd_points)
sig_d, sig_v = zip(*signal_points)
rsi_x = [dt(d) for d in rsi_d]

xr = [dt(X_D0), dt(X_D1)]
month_ticks = list(pd.date_range("2024-08-01", "2025-08-01", freq="MS"))
month_text = [("<b>%s</b>" % m) if m == "2025" else m for m in month_labels][:len(month_ticks)]

# ---------------- FIGURE ----------------
fig = go.Figure()

fig.add_trace(go.Candlestick(
    x=dates, open=opens, high=hi, low=lo, close=cl,
    increasing=dict(line=dict(color=UP, width=1), fillcolor=UP),
    decreasing=dict(line=dict(color=DN, width=1), fillcolor=DN),
    whiskerwidth=0, xaxis="x", yaxis="y", hoverinfo="skip", showlegend=False))

last_c = cl[-1]
fig.add_trace(go.Scatter(x=xr, y=[last_c, last_c], mode="lines",
                         line=dict(color=DN, width=1, dash="dot"),
                         xaxis="x", yaxis="y", hoverinfo="skip"))

# RSI overbought fill (above 70)
fig.add_trace(go.Scatter(x=rsi_x, y=[70] * len(rsi_v), mode="lines", line=dict(width=0),
                         xaxis="x2", yaxis="y2", hoverinfo="skip"))
fig.add_trace(go.Scatter(x=rsi_x, y=[max(v, 70) for v in rsi_v], mode="lines", line=dict(width=0),
                         fill="tonexty", fillcolor="rgba(76,175,80,0.28)",
                         xaxis="x2", yaxis="y2", hoverinfo="skip"))
fig.add_trace(go.Scatter(x=rsi_x, y=rsi_v, mode="lines", line=dict(color=RSI_C, width=1),
                         xaxis="x2", yaxis="y2", hoverinfo="skip"))
fig.add_trace(go.Scatter(x=[dt(d) for d in rma_d], y=rma_v, mode="lines",
                         line=dict(color=RSI_MA_C, width=1), xaxis="x2", yaxis="y2", hoverinfo="skip"))

fig.add_trace(go.Bar(x=dates, y=hist, marker=dict(color=hist_colors, line=dict(width=0)),
                     width=0.5 * 86400000, xaxis="x3", yaxis="y3", hoverinfo="skip"))
fig.add_trace(go.Scatter(x=[dt(d) for d in mac_d], y=mac_v, mode="lines",
                         line=dict(color=MACD_C, width=1), xaxis="x3", yaxis="y3", hoverinfo="skip"))
fig.add_trace(go.Scatter(x=[dt(d) for d in sig_d], y=sig_v, mode="lines",
                         line=dict(color=SIG_C, width=1), xaxis="x3", yaxis="y3", hoverinfo="skip"))

xcommon = dict(type="date", range=xr, tickvals=month_ticks, showgrid=True, gridcolor=GRID,
               gridwidth=1, zeroline=False, showline=False, ticks="", fixedrange=True)
ycommon = dict(side="right", showgrid=True, gridcolor=GRID, zeroline=False, showline=False,
               ticks="", tickfont=dict(size=12, color=TXT, family=FONT), ticklabelstandoff=10,
               fixedrange=True)

fig.update_layout(
    width=W, height=H,
    margin=dict(l=PX_L, r=W - PX_R, t=PX_T, b=H - PX_B, pad=0),
    paper_bgcolor="white", plot_bgcolor="white",
    showlegend=False, hovermode=False, bargap=0,
    font=dict(family=FONT, size=12, color=TXT),
    xaxis=dict(domain=[0, 1], anchor="y", showticklabels=False,
               rangeslider=dict(visible=False), **xcommon),
    xaxis2=dict(domain=[0, 1], anchor="y2", matches="x", showticklabels=False, **xcommon),
    xaxis3=dict(domain=[0, 1], anchor="y3", matches="x", showticklabels=True, ticklabelstandoff=6,
                ticktext=month_text, tickfont=dict(size=12, color=TXT, family=FONT), **xcommon),
    yaxis=dict(domain=dom(PRICE_PX), anchor="x", type="log",
               range=[math.log10(PRICE_RANGE[0]), math.log10(PRICE_RANGE[1])],
               tickvals=price_ticks, ticktext=price_tick_text, **ycommon),
    yaxis2=dict(domain=dom(RSI_PX), anchor="x2", range=list(RSI_RANGE),
                tickvals=rsi_ticks, ticktext=["%.2f" % t for t in rsi_ticks], **ycommon),
    yaxis3=dict(domain=dom(MACD_PX), anchor="x3", range=list(MACD_RANGE),
                tickvals=macd_ticks, ticktext=macd_tick_text, **ycommon),
)

shapes = []
# RSI band and levels
shapes.append(dict(type="rect", xref="paper", yref="y2", x0=0, x1=1, y0=30, y1=70,
                   fillcolor="rgba(126,87,194,0.10)", line=dict(width=0), layer="below"))
for lvl, col in [(70, "#787B86"), (30, "#787B86"), (50, "rgba(120,123,134,0.5)")]:
    shapes.append(dict(type="line", xref="paper", yref="y2", x0=0, x1=1, y0=lvl, y1=lvl,
                       line=dict(color=col, width=1, dash="dash")))
# MACD zero line
shapes.append(dict(type="line", xref="paper", yref="y3", x0=0, x1=1, y0=0, y1=0,
                   line=dict(color="rgba(120,123,134,0.5)", width=1, dash="dash")))
# frame and pane separators
fx0, fx1 = px2x(10), px2x(1545)
shapes.append(dict(type="rect", xref="paper", yref="paper", x0=fx0, x1=fx1,
                   y0=py2y(762), y1=py2y(28.5), line=dict(color=FRAME, width=1)))
for sep in (383.5, 554.5):
    shapes.append(dict(type="line", xref="paper", yref="paper", x0=fx0, x1=fx1,
                       y0=py2y(sep), y1=py2y(sep), line=dict(color=FRAME, width=1)))


# TradingView logo (small glyph)
def path(points):
    return "M " + " L ".join("%f,%f" % (px2x(a), py2y(b)) for a, b in points) + " Z"


shapes.append(dict(type="path", xref="paper", yref="paper", fillcolor=TXT, line=dict(width=0),
                   path=path([(12, 774), (21, 774), (21, 787), (16.5, 787), (16.5, 778.5), (12, 778.5)])))
shapes.append(dict(type="circle", xref="paper", yref="paper", fillcolor=TXT, line=dict(width=0),
                   x0=px2x(21.8), x1=px2x(26.2), y0=py2y(778.8), y1=py2y(774.4)))
shapes.append(dict(type="path", xref="paper", yref="paper", fillcolor=TXT, line=dict(width=0),
                   path=path([(28.5, 774), (34, 774), (29, 787), (23.5, 787)])))
fig.update_layout(shapes=shapes)

ann = []


def text_ann(px, py, text, size=13, color=TXT, anchor="left"):
    ann.append(dict(xref="paper", yref="paper", x=px2x(px), y=py2y(py), text=text,
                    showarrow=False, xanchor=anchor, yanchor="middle",
                    font=dict(size=size, color=color, family=FONT)))


text_ann(8, 12, "rangepalmer3 created with TradingView.com, Aug 02, 2025 10:38 UTC-4", size=13.7)

o_l, h_l, l_l, c_l = opens[-1], hi[-1], lo[-1], cl[-1]
chg = c_l - cl[-2]
pct = chg / cl[-2] * 100
vc = UP if chg >= 0 else DN
sp = "\u00a0\u00a0"
head = ("Decred / TetherUS \u00b7 1D \u00b7 BINANCE" + sp +
        "O<span style='color:%s'>%s</span>" % (vc, fmt(o_l)) + sp +
        "H<span style='color:%s'>%s</span>" % (vc, fmt(h_l)) + sp +
        "L<span style='color:%s'>%s</span>" % (vc, fmt(l_l)) + sp +
        "C<span style='color:%s'>%s</span>" % (vc, fmt(c_l)) + sp +
        "<span style='color:%s'>%s (%s%%)</span>" % (vc, fmt(chg), fmt(pct)))
text_ann(18, 47, head, size=13.5)

rsi_last, rma_last = rsi_v[-1], rma_v[-1]
text_ann(18, 400, "RSI (14, close)" + sp +
         "<span style='color:%s'>%s</span>" % (RSI_C, fmt(rsi_last)) + sp +
         "<span style='color:#F7C51E'>%s</span>" % fmt(rma_last))

h_last, m_last, s_last = hist[-1], mac_v[-1], sig_v[-1]
text_ann(18, 573, "MACD (12, 26, close)" + sp +
         "<span style='color:#F23645'>%s</span>" % fmt(h_last) + sp +
         "<span style='color:%s'>%s</span>" % (MACD_C, fmt(m_last)) + sp +
         "<span style='color:%s'>%s</span>" % (SIG_C, fmt(s_last)), size=13.3)

text_ann(37, 780, "<b>TradingView</b>", size=14)


def box(px, py, text, bg, fg="white", width=44, height=14, anchor="left", yanchor="middle"):
    ann.append(dict(xref="paper", yref="paper", x=px2x(px), y=py2y(py), text=text,
                    showarrow=False, xanchor=anchor, yanchor=yanchor, align="center",
                    width=width, height=height, bgcolor=bg, borderpad=2,
                    font=dict(size=12, color=fg, family=FONT)))


# price label
p_py = log_py(last_c, PRICE_RANGE, PRICE_PX)
ann.append(dict(xref="paper", yref="paper", x=px2x(1468), y=py2y(p_py - 8.5),
                text="%s<br><span style='color:rgba(255,255,255,0.85)'>09:21:52</span>" % fmt(last_c),
                showarrow=False, xanchor="left", yanchor="top", align="center",
                width=66, height=28, bgcolor=DN, borderpad=3,
                font=dict(size=12, color="white", family=FONT)))
box(1467, p_py, "DCRUSDT", DN, width=57, height=13, anchor="right")

# USDT button
ann.append(dict(xref="paper", yref="paper", x=px2x(1506), y=py2y(48.5), text="USDT",
                showarrow=False, xanchor="center", yanchor="middle", width=58, height=21,
                bgcolor="white", bordercolor=FRAME, borderwidth=1, borderpad=2,
                font=dict(size=12, color=TXT, family=FONT)))

# RSI labels
box(1469, lin_py(rma_last, RSI_RANGE, RSI_PX), fmt(rma_last), RSI_MA_C, fg=TXT)
box(1469, lin_py(rsi_last, RSI_RANGE, RSI_PX), fmt(rsi_last), RSI_C)

# MACD labels, stacked upward when they would overlap
labels = [(h_last, "#FF5252"), (m_last, MACD_C), (s_last, SIG_C)]
labels = sorted(labels, key=lambda t: -lin_py(t[0], MACD_RANGE, MACD_PX))
prev_py = None
for val, col in labels:
    py = lin_py(val, MACD_RANGE, MACD_PX)
    if prev_py is not None:
        py = min(py, prev_py - 18.5)
    box(1469, py, fmt(val), col)
    prev_py = py

fig.update_layout(annotations=ann)
fig.write_html("out.html", config={"displayModeBar": False, "staticPlot": True},
               post_script="document.body.style.margin='0';document.body.style.overflow='hidden';")
